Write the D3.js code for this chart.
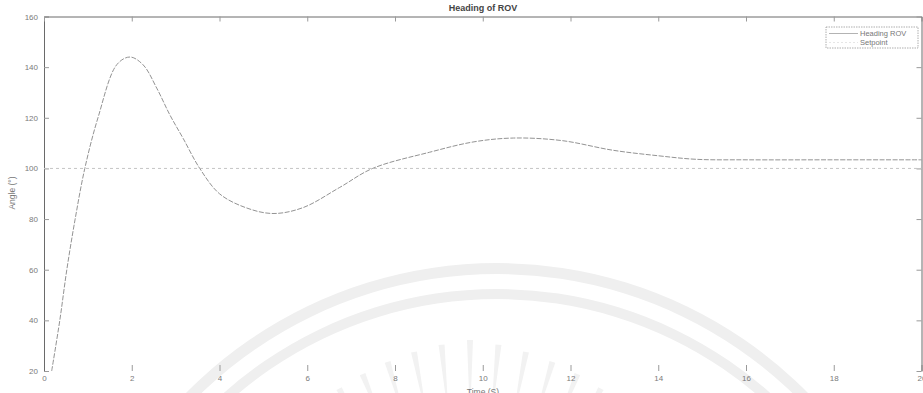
<!DOCTYPE html>
<html>
<head>
<meta charset="utf-8">
<script src="https://cdn.jsdelivr.net/npm/d3@7"></script>
<style>
  body { margin: 0; background: #fff; }
  svg { display: block; font-family: "Liberation Sans", Arial, sans-serif; }
</style>
</head>
<body>
<svg id="chart" width="923" height="393"></svg>
<script>
// heading response
var time = [0.175, 0.36, 0.52, 0.71, 0.93, 1.23, 1.66, 1.96, 2.26, 2.57, 2.87, 3.17, 3.55, 4.0, 4.6, 5.22, 5.9, 6.74, 7.49, 8.79, 9.8, 10.7, 11.8, 12.96, 14.0, 14.87, 16, 18, 20];
var heading = [20, 40, 60, 80, 100, 120, 141, 144, 140.9, 131.7, 121.1, 111.9, 100, 90, 84.5, 82.2, 84.5, 92.5, 100, 106.4, 110.5, 112, 111, 107.2, 105, 103.6, 103.4, 103.4, 103.4];
var setpoint = [100, 100];
var setTime = [0, 20];
var xTicks = [0, 2, 4, 6, 8, 10, 12, 14, 16, 18, 20];
var yTicks = [20, 40, 60, 80, 100, 120, 140, 160];
var legendLabels = ['Heading ROV', 'Setpoint'];

var svg = d3.select('#chart')
var pLeft = 44, pRight = 921.5, pTop = 16.5, pBottom = 371

var x = d3.scaleLinear().domain([0, 20]).range([pLeft, pRight])
var y = d3.scaleLinear().domain([20, 160]).range([pBottom, pTop])

// faint watermark of the scanned page (logo arcs and rays)
var wm = svg.append('g')
var wmArc = d3.arc().startAngle(-1.2).endAngle(1.2)
wm.append('path').attr('transform', 'translate(497,700)')
    .attr('d', wmArc.innerRadius(426).outerRadius(437)()).attr('fill', '#efefef')
wm.append('path').attr('transform', 'translate(497,700)')
    .attr('d', wmArc.innerRadius(401).outerRadius(411)()).attr('fill', '#efefef')
d3.range(-33, 34, 5.5).forEach(function(a) {
    var len = 300 - Math.abs(a) * 0.6
    // tapered ray: narrow at the inner end
    var pts = [[-0.5, -235], [0.5, -235], [3, -len], [-3, -len]]
    wm.append('polygon')
        .attr('transform', 'translate(470,640) rotate(' + a + ')')
        .attr('points', pts.map(function(p) { return p.join(',') }).join(' '))
        .attr('fill', '#f2f2f2')
})

// axes
var xAxis = svg.append('g').attr('transform', 'translate(0,' + pBottom + ')')
    .call(d3.axisBottom(x).tickValues(xTicks).tickSizeInner(-6).tickSizeOuter(0).tickPadding(4))
xAxis.select('.domain').remove()

var yAxis = svg.append('g').attr('transform', 'translate(' + pLeft + ',0)')
    .call(d3.axisLeft(y).tickValues(yTicks).tickSizeInner(-5).tickSizeOuter(0).tickPadding(6))

svg.append('g').attr('transform', 'translate(0,' + pTop + ')')
    .call(d3.axisTop(x).tickValues(xTicks).tickSizeInner(-5).tickSizeOuter(0).tickFormat(''))
svg.append('g').attr('transform', 'translate(' + pRight + ',0)')
    .call(d3.axisRight(y).tickValues(yTicks).tickSizeInner(-5).tickSizeOuter(0).tickFormat(''))

svg.selectAll('.domain').attr('stroke', '#6a6a6a')
svg.selectAll('.tick line').attr('stroke', '#9a9a9a')
svg.selectAll('.tick text').attr('fill', '#7a7a7a').style('font-size', '8px')

// setpoint
var line = d3.line().x(function(d) { return x(d[0]) }).y(function(d) { return y(d[1]) })
svg.append('path')
    .datum(setTime.map(function(t, i) { return [t, setpoint[i]] }))
    .attr('d', line)
    .attr('fill', 'none').attr('stroke', '#c4c4c4').attr('stroke-width', 1)
    .attr('stroke-dasharray', '3,3')

// heading
svg.append('path')
    .datum(time.map(function(t, i) { return [t, heading[i]] }))
    .attr('d', line.curve(d3.curveCatmullRom.alpha(0.5)))
    .attr('fill', 'none').attr('stroke', '#939393').attr('stroke-width', 1)
    .attr('stroke-dasharray', '5,1.5')

// labels
svg.append('text').attr('x', 483).attr('y', 11).attr('text-anchor', 'middle')
    .style('font-size', '9px').style('font-weight', 'bold').attr('fill', '#444')
    .text('Heading of ROV')
svg.append('text').attr('x', 483).attr('y', 395).attr('text-anchor', 'middle')
    .style('font-size', '8.5px').attr('fill', '#777')
    .text('Time (S)')
svg.append('text').attr('transform', 'translate(15,193) rotate(-90)').attr('text-anchor', 'middle')
    .style('font-size', '8.5px').attr('fill', '#777')
    .text('Angle (°)')

// legend
var lg = svg.append('g').attr('transform', 'translate(826,27)')
lg.append('rect').attr('width', 92).attr('height', 21)
    .attr('fill', '#fff').attr('stroke', '#9a9a9a').attr('stroke-width', 0.8).attr('stroke-dasharray', '1.5,1')
lg.selectAll('.entry').data(legendLabels).enter().append('g')
    .attr('class', 'entry')
    .attr('transform', function(d, i) { return 'translate(0,' + (6.5 + i * 9) + ')' })
    .each(function(d, i) {
        var g = d3.select(this)
        g.append('line').attr('x1', 3).attr('x2', 32)
            .attr('stroke', i == 0 ? '#a0a0a0' : '#e0e0e0').attr('stroke-width', 0.8)
            .attr('stroke-dasharray', i == 0 ? null : '2,2')
        g.append('text').attr('x', 34).attr('y', 2.8)
            .style('font-size', '7.5px').attr('fill', '#777').text(d)
    })
</script>
</body>
</html>
